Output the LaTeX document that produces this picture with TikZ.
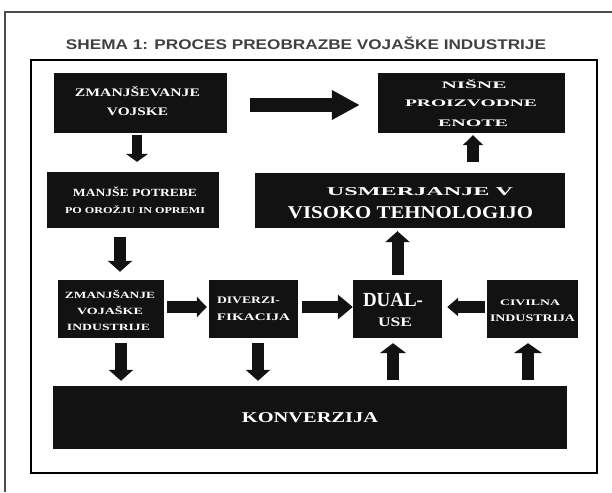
\documentclass[tikz,border=0pt]{standalone}
\usepackage{fontspec}
\setmainfont{Liberation Serif}
\newfontfamily\titlefont{Liberation Sans}
\usetikzlibrary{arrows.meta,calc}
\definecolor{boxblack}{HTML}{121212}
\tikzset{
  blk/.style={fill=boxblack, draw=none, inner sep=0pt, rectangle},
  txt/.style={text=white, inner sep=0pt, font=\bfseries},
  arr/.style={draw=boxblack, line width=12pt, -{Triangle[width=24pt,length=11pt]}},
  frame/.style={line width=2.5pt, draw=black}
}
\newcommand\bxline[6]{\node[txt,anchor=base] (#1) at (#2,{#3+0.33*#4}) {\resizebox{#5pt}{\height}{\fontsize{#4}{#4}\selectfont\bfseries #6}};}
\begin{document}
\begin{tikzpicture}[x=1pt,y=-1pt]
\useasboundingbox (0,0) rectangle (612,492);
% frames
\draw[frame, draw=black!70] (5,492) -- (5,12) -- (612,12);
\draw[frame] (31,60) rectangle (597,473);
% title
\node[inner sep=0pt, text=black!75] (title) at (306,43) {\resizebox{480pt}{\height}{\titlefont\bfseries\fontsize{14}{14}\selectfont SHEMA 1: PROCES PREOBRAZBE VOJAŠKE INDUSTRIJE}};
% boxes
\node[blk, minimum width=173pt, minimum height=60pt] (A) at (140.5,103) {};
\node[blk, minimum width=187pt, minimum height=60pt] (TR) at (471.5,103) {};
\node[blk, minimum width=172pt, minimum height=56pt] (B) at (133,200) {};
\node[blk, minimum width=310pt, minimum height=55pt] (U) at (410,200.5) {};
\node[blk, minimum width=106pt, minimum height=58pt] (C) at (111,309) {};
\node[blk, minimum width=89pt, minimum height=58pt] (D) at (253.5,309) {};
\node[blk, minimum width=89pt, minimum height=58pt] (DU) at (397.5,309) {};
\node[blk, minimum width=91pt, minimum height=58pt] (CV) at (532.5,309) {};
\node[blk, minimum width=514pt, minimum height=63pt] (K) at (310,417.5) {};
% texts
\bxline{a1}{137.5}{93}{11.5}{125}{ZMANJŠEVANJE}
\bxline{a2}{137.5}{112}{11.5}{61}{VOJSKE}
\bxline{t1}{474}{85}{10}{65}{NIŠNE}
\bxline{t2}{471}{103}{10}{132}{PROIZVODNE}
\bxline{t3}{473}{123}{10}{70}{ENOTE}
\bxline{b1}{135}{193}{11}{124}{MANJŠE POTREBE}
\bxline{b2}{135}{211}{9}{140}{PO OROŽJU IN OPREMI}
\bxline{u1}{420}{192}{12}{186}{USMERJANJE V}
\bxline{u2}{410.5}{213}{18}{245}{VISOKO TEHNOLOGIJO}
\bxline{c1}{110}{295}{9.5}{90}{ZMANJŠANJE}
\bxline{c2}{110}{311}{9.5}{66}{VOJAŠKE}
\bxline{c3}{108.5}{327}{9.5}{83}{INDUSTRIJE}
\bxline{d1}{248.5}{300}{10}{63}{DIVERZI-}
\bxline{d2}{253.5}{317}{10}{73}{FIKACIJA}
\bxline{du1}{393}{300}{20}{60}{DUAL-}
\bxline{du2}{395}{322}{13}{34}{USE}
\bxline{cv1}{530}{303}{8.5}{60}{CIVILNA}
\bxline{cv2}{532.5}{318}{10}{85}{INDUSTRIJA}
\bxline{k1}{310}{418}{15}{136}{KONVERZIJA}
% arrows
\draw[arr, line width=14pt, -{Triangle[width=28pt,length=28pt]}, shorten <=23pt, shorten >=18pt]
  ([yshift=-2pt]A.east) -- ([yshift=-2pt]TR.west);
\draw[arr, line width=10pt, -{Triangle[width=22pt,length=8pt]}, shorten <=2pt, shorten >=10pt]
  ([xshift=-3.5pt]A.south) -- ([xshift=-3.5pt]A.south |- B.north);
\draw[arr, shorten <=9pt, shorten >=8pt]
  ([xshift=-13pt]B.south) -- ([xshift=-13pt]B.south |- C.north);
\draw[arr, -{Triangle[width=20pt,length=10pt]}, shorten <=3pt, shorten >=2pt]
  ([yshift=2pt]C.east) -- ([yshift=2pt]D.west);
\draw[arr, -{Triangle[width=24pt,length=15pt]}, shorten <=4pt]
  ([yshift=2pt]D.east) -- ([yshift=2pt]DU.west);
\draw[arr, -{Triangle[width=18pt,length=11pt]}, shorten <=2pt, shorten >=5pt]
  ([yshift=2pt]CV.west) -- ([yshift=2pt]DU.east);
\draw[arr, shorten <=5pt, shorten >=3pt]
  (DU.north) -- (DU.north |- U.south);
\draw[arr, -{Triangle[width=20pt,length=10pt]}, shorten <=11pt, shorten >=2pt]
  ([xshift=1.5pt]TR.south |- U.north) -- ([xshift=1.5pt]TR.south);
\draw[arr, shorten <=5pt, shorten >=5pt]
  ([xshift=10pt]C.south) -- ([xshift=10pt]C.south |- K.north);
\draw[arr, shorten <=5pt, shorten >=5pt]
  ([xshift=4.5pt]D.south) -- ([xshift=4.5pt]D.south |- K.north);
\draw[arr, -{Triangle[width=26pt,length=10pt]}, shorten <=6pt, shorten >=5pt]
  ([xshift=-4.5pt]DU.south |- K.north) -- ([xshift=-4.5pt]DU.south);
\draw[arr, -{Triangle[width=28pt,length=10pt]}, shorten <=6pt, shorten >=5pt]
  ([xshift=-4.5pt]CV.south |- K.north) -- ([xshift=-4.5pt]CV.south);
\end{tikzpicture}
\end{document}
